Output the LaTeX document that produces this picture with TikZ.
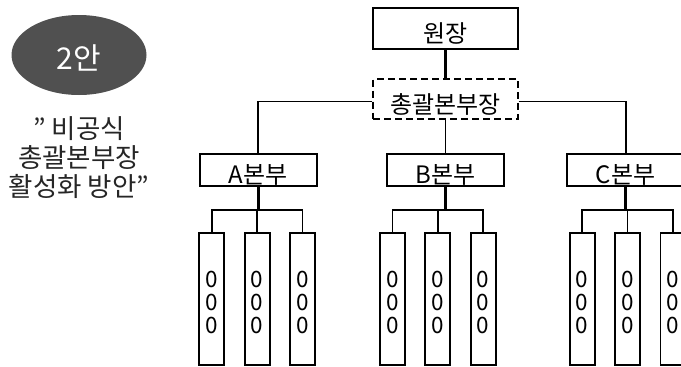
\documentclass[tikz,border=0pt]{standalone}
\usepackage{fontspec}
\setmainfont{Noto Sans CJK KR}
\usetikzlibrary{positioning,shapes.geometric}
\definecolor{cBadge}{RGB}{80,80,80}
\newcommand\deptlabel{\rule{0pt}{24pt}0\\0\\0}

\begin{document}
\begin{tikzpicture}[
  x=1pt,y=-1pt,
  node distance=18.6pt,
  unit/.style={draw,line width=1.8pt,inner sep=0pt,text height=28pt,text depth=0pt,
               font=\fontsize{24}{24}\selectfont},
  branch/.style={unit,minimum width=117pt,minimum height=32pt},
  dept/.style={draw,line width=1.8pt,inner sep=0pt,minimum width=25pt,minimum height=132pt,
               align=center,font=\fontsize{22.5}{23}\selectfont},
  link/.style={line width=1.8pt},
  trunk/.style={line width=2.6pt},
]
\useasboundingbox (0,0) rectangle (681,367);
\clip (0,0) rectangle (681,367);
% badge and caption on the left
\node[ellipse,fill=cBadge,minimum width=135pt,minimum height=80pt,inner sep=0pt,
      text=white,text height=29pt,text depth=0pt,font=\fontsize{30}{30}\selectfont] (badge) at (79,55) {2안};
\node[align=center,text=black!85,font=\fontsize{26.5}{29}\selectfont] (caption) at (79,158)
  {" 비공식\\총괄본부장\\활성화 방안"};
% top of the chart
\node[unit,minimum width=145pt,minimum height=41pt] (head) at (445.5,28.3) {원장};
\node[unit,dashed,dash pattern=on 7pt off 4pt,minimum width=144.6pt,minimum height=40.3pt,
      below=28.4pt of head] (chief) {총괄본부장};
% branches
\node[branch] (divA) at (258.3,169.7) {A본부};
\node[branch] (divB) at (445.5,169.7) {B본부};
\node[branch] (divC) at (625.7,169.7) {C본부};
\draw[trunk] (head) -- (chief);
\draw[link] ([yshift=-2.3pt]chief.west) -| (divA);
\draw[link] ([yshift=-2.3pt]chief.east) -| (divC);
\draw[link] (chief) -- (divB);
% departments under A
\node[dept,anchor=north west] (a1) at (198.3,231.7) {\deptlabel};
\node[dept,right=of a1] (a2) {\deptlabel};
\node[dept,right=of a2] (a3) {\deptlabel};
% departments under B
\node[dept,anchor=north west] (b1) at (379,231.7) {\deptlabel};
\node[dept,right=of b1] (b2) {\deptlabel};
\node[dept,right=of b2] (b3) {\deptlabel};
% departments under C
\node[dept,anchor=north west] (c1) at (568.7,231.7) {\deptlabel};
\node[dept,right=of c1] (c2) {\deptlabel};
\node[dept,right=of c2] (c3) {\deptlabel};
% buses
\coordinate (busA) at ([yshift=-23pt]divA.south);
\coordinate (busB) at ([yshift=-23pt]divB.south);
\coordinate (busC) at ([yshift=-23pt]divC.south);
\draw[trunk] (divA) -- (busA);
\draw[trunk] (divB) -- (busB);
\draw[trunk] (divC) -- (busC);
\draw[link] (a1) |- (busA) -| (a3);
\draw[link] (a2) -- (a2 |- busA);
\draw[link] (b1) |- (busB) -| (b3);
\draw[link] (b2) -- (b2 |- busB);
\draw[link] (c1) |- (busC) -| (c3);
\draw[link] (c2) -- (c2 |- busC);
\end{tikzpicture}
\end{document}
